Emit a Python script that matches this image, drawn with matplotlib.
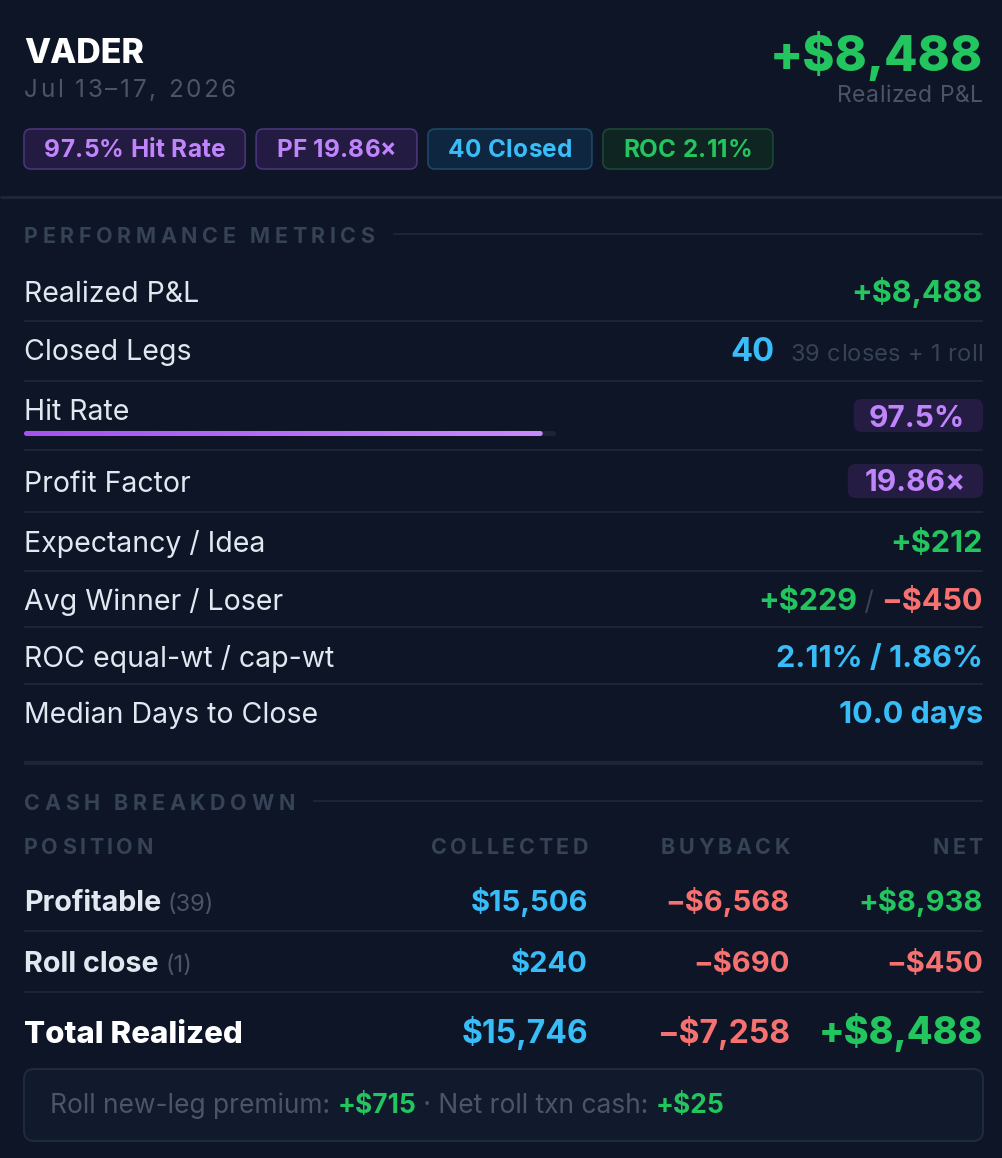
import numpy as np
import matplotlib.pyplot as plt
from matplotlib.patches import FancyBboxPatch
from matplotlib.colors import LinearSegmentedColormap

ticker = "VADER"
period = "Jul 13–17, 2026"
realized_pnl = 8488
hit_rate = 97.5
profit_factor = 19.86
closed_legs = 40
closes, rolls = 39, 1
roc_eq, roc_cap = 2.11, 1.86
expectancy = 212
avg_win, avg_loss = 229, -450
median_days = 10.0

cash_positions = ["Profitable", "Roll close"]
cash_counts = [39, 1]
cash_collected = [15506, 240]
cash_buyback = [-6568, -690]
cash_net = [8938, -450]
cash_headers = ["POSITION", "COLLECTED", "BUYBACK", "NET"]
roll_premium = 715
roll_txn = 25

BG = "#0d1527"
LINE = "#1b2537"
WHITE = "#e2e8f0"
GRAY = "#4b5567"
DIM = "#364255"
GREEN = "#22c55e"
BLUE = "#38bdf8"
RED = "#f87171"
PURPLE = "#c084fc"
FONT = ["Inter", "DejaVu Sans"]

W, H = 1003, 1158
fig = plt.figure(figsize=(W / 100, H / 100), dpi=100)
fig.patch.set_facecolor(BG)
ax = fig.add_axes([0, 0, 1, 1])
ax.set_xlim(0, W)
ax.set_ylim(H, 0)
ax.axis("off")
rend = fig.canvas.get_renderer()


def money(v, sign=True):
    if v < 0:
        return f"−${abs(v):,}"
    return (f"+${v:,}" if sign else f"${v:,}")


def tw(s, size, weight):
    a = ax.text(0, 0, "|" + s + "|", fontsize=size, fontweight=weight, family=FONT)
    b = ax.text(0, 0, "||", fontsize=size, fontweight=weight, family=FONT)
    w = a.get_window_extent(rend).width - b.get_window_extent(rend).width
    a.remove()
    b.remove()
    return w


def part_width(p, track):
    s, c, size, weight = p
    if track:
        return sum(tw(ch, size, weight) for ch in s) + track * (len(s) - 1)
    return tw(s, size, weight)


def run(x, y, parts, ha="left", track=0):
    widths = [part_width(p, track) for p in parts]
    total = sum(widths)
    if ha == "right":
        x -= total
    elif ha == "center":
        x -= total / 2
    for p, w in zip(parts, widths):
        s, c, size, weight = p
        if track:
            cx = x
            for ch in s:
                ax.text(cx, y, ch, color=c, fontsize=size, fontweight=weight,
                        family=FONT, va="baseline", ha="left")
                cx += tw(ch, size, weight) + track
        else:
            ax.text(x, y, s, color=c, fontsize=size, fontweight=weight,
                    family=FONT, va="baseline", ha="left")
        x += w
    return total


def rbox(x0, y0, x1, y1, fc, ec="none", r=8, lw=1.2):
    ax.add_patch(FancyBboxPatch((x0, y0), x1 - x0, y1 - y0,
                                boxstyle=f"round,pad=0,rounding_size={r}",
                                fc=fc, ec=ec, lw=lw))


def hline(y, x0=24, x1=983, c=LINE, lw=1.5):
    ax.plot([x0, x1], [y, y], color=c, lw=lw, solid_capstyle="butt")


L, R = 24, 983

# header
run(L, 63, [(ticker, "white", 24.5, "heavy")])
run(L, 97, [(period, GRAY, 17.5, "normal")], track=2.6)
run(R, 71, [(money(realized_pnl), GREEN, 35, "heavy")], ha="right")
run(R, 102, [("Realized P&L", GRAY, 16.5, "normal")], ha="right", track=0.5)

badges = [
    (f"{hit_rate}% Hit Rate", PURPLE, "#241b42", "#4a3478"),
    (f"PF {profit_factor}×", PURPLE, "#241b42", "#4a3478"),
    (f"{closed_legs} Closed", BLUE, "#0e2640", "#1e4766"),
    (f"ROC {roc_eq}%", GREEN, "#0e2522", "#1b4832"),
]
bx = L
for txt, tc, fc, ec in badges:
    w = part_width((txt, tc, 17.5, "bold"), 0.3) + 40
    rbox(bx, 129, bx + w, 169, fc, ec, r=7)
    run(bx + w / 2, 157, [(txt, tc, 17.5, "bold")], ha="center", track=0.3)
    bx += w + 11

hline(197, 0, W, c="#1e2839", lw=2)


def section(y, title):
    w = run(L, y, [(title, DIM, 15.5, "bold")], track=4.6)
    hline(y - 9, L + w + 18, R, lw=1.5)


section(243, "PERFORMANCE METRICS")

LS = 20.5
VS = 22
rows = [
    ("Realized P&L", 302),
    ("Closed Legs", 360),
    ("Hit Rate", 420),
    ("Profit Factor", 492),
    ("Expectancy / Idea", 552),
    ("Avg Winner / Loser", 610),
    ("ROC equal-wt / cap-wt", 667),
    ("Median Days to Close", 723),
]
for lab, y in rows:
    run(L, y, [(lab, WHITE, LS, "normal")])
for y in [321, 381, 450, 512, 571, 627, 684]:
    hline(y)

run(R, 302, [(money(realized_pnl), GREEN, VS, "bold")], ha="right")
sub = f"{closes} closes + {rolls} roll"
run(R, 361, [(sub, DIM, 17, "normal")], ha="right", track=0.3)
subw = part_width((sub, DIM, 17, "normal"), 0.3)
run(R - subw - 16, 361, [(f"{closed_legs}", BLUE, 23.5, "bold")], ha="right")

# hit rate pill + bar
hr = f"{hit_rate}%"
w = tw(hr, 21.5, "bold")
rbox(R - w - 33, 399, R, 432, "#241c42", r=8)
run(R - 18, 427, [(hr, PURPLE, 21.5, "bold")], ha="right")
bar0, bar1 = L, 556
rbox(bar0, 431, bar1, 436, "#1c2536", r=2.5)
fill_end = bar0 + (bar1 - bar0) * hit_rate / 100
clip = FancyBboxPatch((bar0, 431), fill_end - bar0, 5,
                      boxstyle="round,pad=0,rounding_size=2.5", fc="none", ec="none")
ax.add_patch(clip)
grad = np.linspace(0, 1, 256).reshape(1, -1)
cm = LinearSegmentedColormap.from_list("pp", ["#a552f0", "#c98afc"])
im = ax.imshow(grad, cmap=cm, extent=(bar0, fill_end, 436, 431), aspect="auto", zorder=3)
im.set_clip_path(clip)
ax.set_xlim(0, W)
ax.set_ylim(H, 0)

# profit factor pill
pf = f"{profit_factor}×"
w = tw(pf, 21.5, "bold")
rbox(R - w - 34, 464, R, 498, "#241c42", r=8)
run(R - 17, 491, [(pf, PURPLE, 21.5, "bold")], ha="right")

run(R, 552, [(money(expectancy), GREEN, VS, "bold")], ha="right")
run(R, 610, [(money(avg_win), GREEN, VS, "bold"), (" / ", DIM, 19, "normal"),
             (money(avg_loss), RED, VS, "bold")], ha="right")
run(R, 667, [(f"{roc_eq}% / {roc_cap}%", BLUE, VS, "bold")], ha="right")
run(R, 723, [(f"{median_days:.1f} days", BLUE, VS, "bold")], ha="right")

hline(763, lw=3)

# cash breakdown
section(810, "CASH BREAKDOWN")
col_x = [588, 790, 983]
run(L, 854, [(cash_headers[0], DIM, 15.5, "bold")], track=3.6)
for h, cx in zip(cash_headers[1:], col_x):
    run(cx, 854, [(h, DIM, 15.5, "bold")], ha="right", track=3.6)

CS = 21
row_y = [911, 972]
for name, n, c, b, nt, y in zip(cash_positions, cash_counts, cash_collected,
                                 cash_buyback, cash_net, row_y):
    run(L, y, [(name, WHITE, 20.7, "bold"), (" ", GRAY, 17, "normal"),
               (f"({n})", GRAY, 17, "normal")])
    run(col_x[0], y, [(money(c, sign=False), BLUE, CS, "bold")], ha="right")
    run(col_x[1], y, [(money(b), RED, CS, "bold")], ha="right")
    run(col_x[2], y, [(money(nt), GREEN if nt >= 0 else RED, CS, "bold")], ha="right")
hline(931)
hline(992)

tot_c, tot_b, tot_n = sum(cash_collected), sum(cash_buyback), sum(cash_net)
run(L, 1043, [("Total Realized", "white", 22.5, "heavy")])
run(col_x[0], 1043, [(money(tot_c, sign=False), BLUE, 23, "bold")], ha="right")
run(col_x[1], 1043, [(money(tot_b), RED, 23, "bold")], ha="right")
run(col_x[2], 1044, [(money(tot_n), GREEN, 27, "heavy")], ha="right")

rbox(L, 1069, R, 1141, "#111a2d", "#1f2a3c", r=10, lw=1.5)
FS = 19
run(50, 1113, [("Roll new-leg premium: ", GRAY, FS, "normal"),
               (money(roll_premium), GREEN, FS, "bold"),
               (" · Net roll txn cash: ", GRAY, FS, "normal"),
               (money(roll_txn), GREEN, FS, "bold")])

fig.savefig("out.png", dpi=100, facecolor=BG)
